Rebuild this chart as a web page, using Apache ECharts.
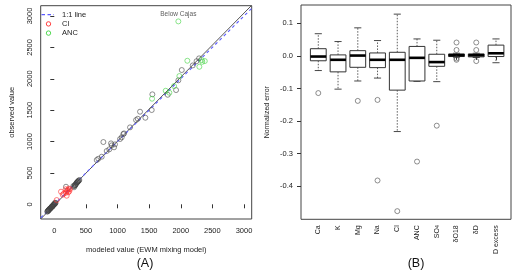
<!DOCTYPE html>
<html><head><meta charset="utf-8">
<script src="https://cdn.jsdelivr.net/npm/echarts@6/dist/echarts.min.js"></script>
<style>html,body{margin:0;padding:0;background:#fff}#c{width:520px;height:275px}</style>
</head><body><div id="c"></div>
<script>
// ---------- Panel A data ----------
const xTicksA = [0, 500, 1000, 1500, 2000, 2500, 3000];
const yTicksA = [0, 500, 1000, 1500, 2000, 2500, 3000];
const blackModeled  = [-111,-105,-100,-96,-92,-88,-85,-79,-75,-70,-65,-60,-55,-50,-45,-41,-35,-30,-25,-20,-16,-12,-8,-4,0,5,11,15,20,185,300,312,318,323,330,335,340,347,354,360,365,370,375,380,388,396,671,696,750,776,829,870,897,908,945,960,1040,1066,1092,1103,1198,1293,1320,1356,1440,1541,1551,1794,1926,1962,2016,2190,2290,2250];
const blackObserved = [-118,-110,-105,-100,-95,-91,-88,-80,-77,-72,-66,-63,-57,-52,-46,-38,-36,-30,-24,-20,-11,-13,-5,-3,2,8,25,15,22,280,290,271,300,291,305,312,320,333,344,348,352,360,365,370,378,387,705,726,758,992,849,876,971,939,908,955,1040,1067,1119,1130,1226,1342,1363,1475,1379,1502,1752,1745,1820,1975,2139,2213,2325,2280];
const clModeled  = [38,106,133,150,185,196,200,212,220,230,237,248,180];
const clObserved = [68,201,153,170,185,137,215,228,190,250,207,239,240];
const ancModeled  = [1962,2104,2294,2332,2380,2340,1978,1894,1820,1762,1546];
const ancObserved = [2914,2287,2191,2298,2282,2270,2043,1884,1777,1809,1682];
const ancLabels   = ['Below Cajas','','','','','','','','','',''];
const legendNames = ['1:1 line', 'Cl', 'ANC'];
const fitSlope = 1.02, fitIntercept = -14;

// ---------- Panel B data ----------
const categories  = ['Ca','K','Mg','Na','Cl','ANC','SO4','δO18','δD','D excess'];
const whiskerLow  = [-0.045,-0.102,-0.077,-0.068,-0.232,-0.078,-0.079,-0.004,-0.005,-0.021];
const q1          = [-0.015,-0.049,-0.035,-0.036,-0.105,-0.077,-0.032,-0.002,-0.003,-0.002];
const medianVal   = [-0.002,-0.012, 0.001,-0.012,-0.012,-0.006,-0.019, 0.002, 0.002, 0.008];
const q3          = [ 0.022, 0.003, 0.016, 0.009, 0.011, 0.029, 0.005, 0.006, 0.006, 0.033];
const whiskerHigh = [ 0.068, 0.044, 0.086, 0.047, 0.128, 0.052, 0.048, 0.008, 0.008, 0.052];
const outlierCat  = [1, 3, 4, 4, 5, 6, 7, 8, 8, 8, 8, 9, 9, 9];
const outlierVal  = [-0.114,-0.138,-0.135,-0.382,-0.476,-0.324,-0.214,0.041,0.018,-0.008,-0.012,0.041,0.018,-0.016];
const yTicksB = [-0.4,-0.3,-0.2,-0.1,0.0,0.1];

// ---------- build ----------
const FONT = 'Liberation Sans';
const TXT = '#222';
const C_BLACK = '#444', C_RED = '#ff2a2a', C_GREEN = '#3fd43f', C_BLUE = '#5a5aff';
const xMinA = -215, xMaxA = 3122, yMinA = -234, yMaxA = 3164;

const zip = (a, b) => a.map((v, i) => [v, b[i]]);
const catPos = categories.map((c, i) => i + 1);
const boxData = categories.map((c, i) => [i + 1, whiskerLow[i], q1[i], medianVal[i], q3[i], whiskerHigh[i]]);
const outData = outlierCat.map((c, i) => [c, outlierVal[i]]);

const chart = echarts.init(document.getElementById('c'), null, {renderer: 'canvas'});

const axisBase = {type: 'value', splitLine: {show: false}, axisLine: {show: false}};
const ring = (color) => ({color: 'rgba(0,0,0,0)', borderColor: color, borderWidth: 0.75});

// manual legend (no frame, like R's bty="n")
const legendColors = [C_BLUE, C_RED, C_GREEN];
const legendGraphics = [];
legendNames.forEach((n, i) => {
  const y = 14.7 + i * 9.2;
  if (i === 0) {
    legendGraphics.push({type: 'line', shape: {x1: 41.5, y1: y, x2: 54, y2: y}, style: {stroke: C_BLUE, lineWidth: 1.2, lineDash: [3.5, 2.5]}});
  } else {
    legendGraphics.push({type: 'circle', shape: {cx: 48.5, cy: y, r: 2.2}, style: {fill: 'none', stroke: legendColors[i], lineWidth: 0.9}});
  }
  legendGraphics.push({type: 'text', x: 62, y: y, style: {text: n, fontSize: 7.5, fill: TXT, fontFamily: FONT, verticalAlign: 'middle'}});
});

chart.setOption({
  backgroundColor: '#fff',
  animation: false,
  textStyle: {fontFamily: FONT},
  grid: [
    {left: 40.7, top: 5.7, width: 211, height: 213.3, show: true, borderColor: '#444', borderWidth: 1, backgroundColor: 'transparent'},
    {left: 301, top: 5, width: 210, height: 214.3, show: true, borderColor: '#444', borderWidth: 1, backgroundColor: 'transparent'}
  ],
  xAxis: [
    Object.assign({}, axisBase, {
      gridIndex: 0, min: xMinA, max: xMaxA,
      name: 'modeled value (EWM mixing model)', nameLocation: 'middle', nameGap: 27,
      nameTextStyle: {fontSize: 7.5, color: TXT, fontFamily: FONT},
      axisTick: {show: true, length: 4, lineStyle: {color: '#333'}, customValues: xTicksA},
      axisLabel: {fontSize: 7.5, color: TXT, margin: 8, customValues: xTicksA, formatter: v => String(v)}
    }),
    Object.assign({}, axisBase, {
      gridIndex: 1, min: 0.124, max: 10.76,
      axisTick: {show: true, length: 4, lineStyle: {color: '#333'}, customValues: catPos},
      axisLabel: {
        fontSize: 7, color: TXT, margin: 6, rotate: 90, customValues: catPos,
        formatter: v => {
          const c = categories[Math.round(v) - 1] || '';
          return c === 'SO4' ? '{n|SO}{s|4}' : '{n|' + c + '}';
        },
        rich: {n: {fontSize: 7, color: TXT, fontFamily: FONT}, s: {fontSize: 5, color: TXT, fontFamily: FONT, verticalAlign: 'bottom'}}
      }
    })
  ],
  yAxis: [
    Object.assign({}, axisBase, {
      gridIndex: 0, min: yMinA, max: yMaxA,
      name: 'observed value', nameLocation: 'middle', nameGap: 25,
      nameTextStyle: {fontSize: 7.5, color: TXT, fontFamily: FONT},
      axisTick: {show: true, length: 4, lineStyle: {color: '#333'}, customValues: yTicksA},
      axisLabel: {fontSize: 7.5, color: TXT, margin: 7, rotate: 90, customValues: yTicksA, formatter: v => String(v)}
    }),
    Object.assign({}, axisBase, {
      gridIndex: 1, min: -0.501, max: 0.156,
      name: 'Normalized error', nameLocation: 'middle', nameGap: 30,
      nameTextStyle: {fontSize: 7, color: TXT, fontFamily: FONT},
      axisTick: {show: true, length: 4, lineStyle: {color: '#333'}, customValues: yTicksB},
      axisLabel: {fontSize: 7.5, color: TXT, margin: 8, customValues: yTicksB, formatter: v => v.toFixed(1)}
    })
  ],
  graphic: [
    {type: 'text', x: 145, y: 264, style: {text: '(A)', fontSize: 12.5, fill: '#111', fontFamily: FONT, align: 'center', verticalAlign: 'middle'}},
    {type: 'text', x: 416, y: 264, style: {text: '(B)', fontSize: 12.5, fill: '#111', fontFamily: FONT, align: 'center', verticalAlign: 'middle'}}
  ].concat(legendGraphics),
  series: [
    {
      name: 'fit', type: 'line', xAxisIndex: 0, yAxisIndex: 0, showSymbol: false, symbol: 'none', clip: true, silent: true,
      lineStyle: {color: '#555', width: 1},
      data: [[xMinA, fitSlope * xMinA + fitIntercept], [xMaxA, fitSlope * xMaxA + fitIntercept]], z: 3
    },
    {
      name: '1:1 line', type: 'line', xAxisIndex: 0, yAxisIndex: 0, showSymbol: false, symbol: 'none', clip: true, silent: true,
      lineStyle: {color: C_BLUE, width: 1.1, type: [3, 3]},
      data: [[xMinA, xMinA], [xMaxA, xMaxA]], z: 4
    },
    {
      name: 'black', type: 'scatter', xAxisIndex: 0, yAxisIndex: 0, symbol: 'circle', symbolSize: 5,
      itemStyle: ring(C_BLACK), data: zip(blackModeled, blackObserved), z: 5
    },
    {
      name: 'Cl', type: 'scatter', xAxisIndex: 0, yAxisIndex: 0, symbol: 'circle', symbolSize: 5,
      itemStyle: ring(C_RED), data: zip(clModeled, clObserved), z: 6
    },
    {
      name: 'ANC', type: 'scatter', xAxisIndex: 0, yAxisIndex: 0, symbol: 'circle', symbolSize: 5,
      itemStyle: ring(C_GREEN),
      label: {show: true, position: 'top', distance: 1, fontSize: 6.5, color: '#333', fontFamily: FONT,
        formatter: p => ancLabels[p.dataIndex]},
      data: zip(ancModeled, ancObserved), z: 6
    },
    {
      name: 'box', type: 'custom', xAxisIndex: 1, yAxisIndex: 1, silent: true,
      encode: {x: 0, y: [1, 2, 3, 4, 5]},
      renderItem: (params, api) => {
        const x = api.value(0);
        const lo = api.coord([x, api.value(1)]);
        const b1 = api.coord([x, api.value(2)]);
        const md = api.coord([x, api.value(3)]);
        const b3 = api.coord([x, api.value(4)]);
        const hi = api.coord([x, api.value(5)]);
        const hw = api.size([0.4, 0])[0];
        const sw = hw * 0.45;
        const cx = lo[0];
        const ln = '#333';
        return {type: 'group', children: [
          {type: 'line', shape: {x1: cx, y1: b3[1], x2: cx, y2: hi[1]}, style: {stroke: ln, lineWidth: 0.8, lineDash: [1.5, 1.5]}},
          {type: 'line', shape: {x1: cx, y1: b1[1], x2: cx, y2: lo[1]}, style: {stroke: ln, lineWidth: 0.8, lineDash: [1.5, 1.5]}},
          {type: 'line', shape: {x1: cx - sw, y1: hi[1], x2: cx + sw, y2: hi[1]}, style: {stroke: ln, lineWidth: 0.9}},
          {type: 'line', shape: {x1: cx - sw, y1: lo[1], x2: cx + sw, y2: lo[1]}, style: {stroke: ln, lineWidth: 0.9}},
          {type: 'rect', shape: {x: cx - hw, y: b3[1], width: 2 * hw, height: b1[1] - b3[1]}, style: {fill: '#fff', stroke: ln, lineWidth: 1}},
          {type: 'line', shape: {x1: cx - hw, y1: md[1], x2: cx + hw, y2: md[1]}, style: {stroke: '#000', lineWidth: 2.6}}
        ]};
      },
      data: boxData, z: 3
    },
    {
      name: 'outliers', type: 'scatter', xAxisIndex: 1, yAxisIndex: 1, symbol: 'circle', symbolSize: 5,
      itemStyle: ring('#444'), data: outData, z: 5
    }
  ]
});
</script>
</body></html>
